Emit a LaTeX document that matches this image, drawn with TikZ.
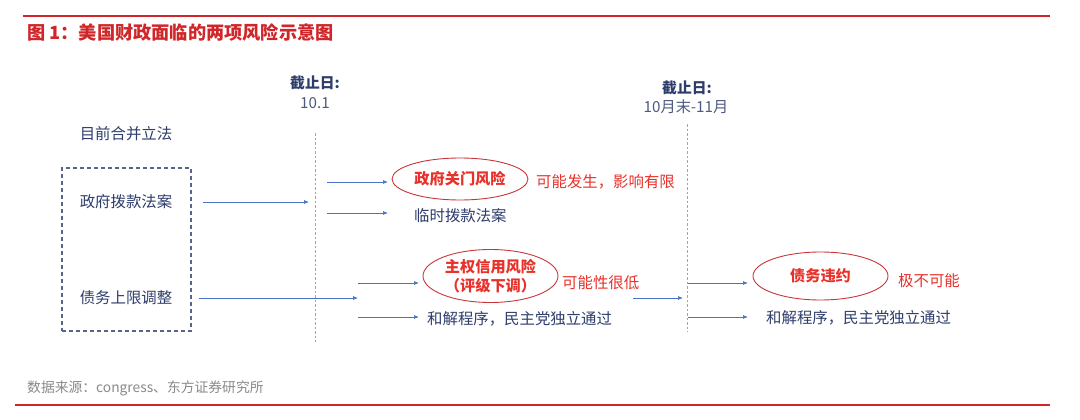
\documentclass[tikz,border=0pt]{standalone}
\usepackage{fontspec}
\setmainfont{Noto Sans CJK SC}
\usetikzlibrary{arrows.meta,shapes.geometric}
\definecolor{navy}{HTML}{2E3D6B}
\definecolor{arrowblue}{HTML}{4A72C4}
\definecolor{redtxt}{HTML}{E8312A}
\definecolor{redline}{HTML}{D0262A}
\definecolor{ellred}{HTML}{C8363A}
\definecolor{graytxt}{HTML}{8A8A8A}
\definecolor{vline}{HTML}{8FA6D6}
\tikzset{
  body/.style={font=\fontsize{15.4}{18}\selectfont, text=navy, inner sep=0pt},
  redlab/.style={font=\fontsize{15.4}{18}\selectfont, text=redtxt, inner sep=0pt, anchor=west},
  riskell/.style={ellipse, draw=ellred, line width=0.9pt, inner sep=0pt,
    font=\bfseries\fontsize{15.2}{18}\selectfont, text=redtxt, align=center},
  flow/.style={draw=arrowblue, line width=0.7pt, -{Latex[length=5pt,width=4pt]}},
  timeline/.style={draw=vline, line width=0.7pt, dash pattern=on 2.5pt off 2pt},
  datehead/.style={font=\bfseries\fontsize{14.8}{17}\selectfont, text=navy, inner sep=0pt},
  dateval/.style={font=\fontsize{15.2}{17}\selectfont, text=navy!85, inner sep=0pt}
}
\begin{document}
\begin{tikzpicture}[x=1pt,y=-1pt]
\useasboundingbox[fill=white] (0,0) rectangle (1080,420);
% frame lines and captions
\coordinate (tl) at (23,16); \coordinate (tr) at (1050,16);
\draw[redline, line width=1.3pt] (tl) -- (tr);
\node[anchor=west, inner sep=0pt, text=redline, font=\bfseries\fontsize{18.2}{21}\selectfont] (title) at (27,33) {图 1：美国财政面临的两项风险示意图};
\coordinate (bl) at (15,405); \coordinate (br) at (1050,405);
\draw[redline, line width=1.6pt] (bl) -- (br);
\node[anchor=west, inner sep=0pt, text=graytxt, font=\fontsize{13.8}{16}\selectfont] (src) at (27,388) {数据来源：congress、东方证券研究所};

% left column
\node[body] (cur) at (126,134) {目前合并立法};
\node[draw=navy!80, dash pattern=on 4pt off 3pt, line width=1.1pt, minimum width=129pt, minimum height=163pt, inner sep=0pt] (box) at (126.5,249.5) {};
\node[body] (gov) at (126,202) {政府拨款法案};
\node[body] (debt) at (126,298) {债务上限调整};

% timelines
\coordinate (v1t) at (315,133); \coordinate (v1b) at (315,342);
\draw[timeline] (v1t) -- (v1b);
\node[datehead] (d1h) at (315,83) {截止日:};
\node[dateval] (d1v) at (315,103) {10.1};
\coordinate (v2t) at (687,124); \coordinate (v2b) at (687,332);
\draw[timeline] (v2t) -- (v2b);
\node[datehead] (d2h) at (687,88) {截止日:};
\node[dateval] (d2v) at (686,107) {10月末-11月};

% arrows from left column
\coordinate (g1) at (203,202); \coordinate (g2) at (309,202);
\draw[flow] (g1) -- (g2);
\coordinate (db1) at (199,298); \coordinate (db2) at (358,298);
\draw[flow] (db1) -- (db2);

% shutdown branch
\node[riskell, minimum width=136pt, minimum height=42pt] (shut) at (460,179) {政府关门风险};
\node[redlab] (shutp) at (536,182) {可能发生，影响有限};
\node[body, anchor=west] (cr) at (414,216) {临时拨款法案};
\coordinate (a1) at (327,182); \coordinate (a1e) at (388,182);
\draw[flow] (a1) -- (a1e);
\coordinate (a2) at (327,213); \coordinate (a2e) at (388,213);
\draw[flow] (a2) -- (a2e);

% sovereign credit branch
\node[riskell, minimum width=135pt, minimum height=53pt, font=\bfseries\fontsize{15.2}{18.5}\selectfont] (sov) at (490.5,276) {主权信用风险\\（评级下调）};
\node[redlab] (sovp) at (562,283) {可能性很低};
\node[body, anchor=west] (rec1) at (427,319) {和解程序，民主党独立通过};
\coordinate (b1) at (358,283); \coordinate (b1e) at (419,283);
\draw[flow] (b1) -- (b1e);
\coordinate (b2) at (358,317); \coordinate (b2e) at (419,317);
\draw[flow] (b2) -- (b2e);
\coordinate (c1) at (633,298); \coordinate (c1e) at (683,298);
\draw[flow] (c1) -- (c1e);

% default branch
\node[riskell, minimum width=135pt, minimum height=48pt] (def) at (820.5,276) {债务违约};
\node[redlab] (defp) at (898,281) {极不可能};
\node[body, anchor=west] (rec2) at (766,318) {和解程序，民主党独立通过};
\coordinate (e1) at (688,283); \coordinate (e1e) at (748,283);
\draw[flow] (e1) -- (e1e);
\coordinate (e2) at (688,317); \coordinate (e2e) at (748,317);
\draw[flow] (e2) -- (e2e);
\end{tikzpicture}
\end{document}
